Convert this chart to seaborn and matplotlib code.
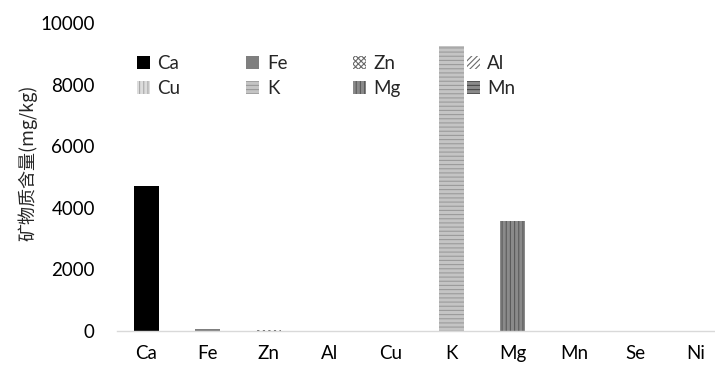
import matplotlib
matplotlib.use("Agg")
import matplotlib.pyplot as plt
import seaborn as sns
import pandas as pd
from matplotlib.patches import Patch

# 矿物质含量 (mg/kg)
elements = ["Ca", "Fe", "Zn", "Al", "Cu", "K", "Mg", "Mn", "Se", "Ni"]
content = [4710, 75, 35, 6, 5, 9250, 3570, 10, 0.2, 1]
legend_items = ["Ca", "Fe", "Zn", "Al", "Cu", "K", "Mg", "Mn"]

# fill, hatch colour, hatch
faces = ["#000000", "#7f7f7f", "#ffffff", "#ffffff", "#dcdcdc", "#c4c4c4", "#8a8a8a", "#8a8a8a", "#8a8a8a", "#8a8a8a"]
edges = ["#000000", "#7f7f7f", "#6a6a6a", "#6a6a6a", "#a8a8a8", "#9a9a9a", "#5a5a5a", "#4a4a4a", "#4a4a4a", "#4a4a4a"]
hatches = [None, None, "xxxxxx", "//////", "||||", "----", "||||", "----", None, None]

df = pd.DataFrame({"element": elements, "content": content})

sns.set_style("white")
plt.rcParams["font.family"] = ["Lato", "DejaVu Sans"]
plt.rcParams["hatch.linewidth"] = 0.8

fig = plt.figure(figsize=(7.15, 3.76), dpi=100)
ax = fig.add_axes([117 / 715, 45 / 376, 598 / 715, 308 / 376])

sns.barplot(data=df, x="element", y="content", hue="element", palette=faces,
            width=0.41, legend=False, ax=ax, saturation=1)

for cont, fc, ec, h in zip(ax.containers, faces, edges, hatches):
    for bar in cont:
        bar.set_facecolor(fc)
        bar.set_edgecolor(ec)
        bar.set_linewidth(0)
        if h:
            bar.set_hatch(h)

ax.set_ylim(0, 10000)
ax.set_yticks([0, 2000, 4000, 6000, 8000, 10000])
ax.set_xlim(-0.475, 9.31)
ax.set_xlabel("")
ax.set_ylabel("矿物质含量(mg/kg)", family=["Noto Sans CJK SC", "DejaVu Sans"],
              fontsize=13)
ax.yaxis.set_label_coords(-0.133, 0.545)
ax.tick_params(axis="both", labelsize=13.5, length=0, colors="#000000")
ax.tick_params(axis="x", pad=10)
ax.tick_params(axis="y", pad=16)
for s in ["top", "right", "left"]:
    ax.spines[s].set_visible(False)
ax.spines["bottom"].set_color("#d9d9d9")
ax.spines["bottom"].set_linewidth(1)

handles = {}
for name in legend_items:
    i = elements.index(name)
    handles[name] = Patch(facecolor=faces[i], edgecolor=edges[i], hatch=hatches[i],
                          linewidth=0, label=name)
# matplotlib fills legend columns first; reorder so rows read Ca Fe Zn Al / Cu K Mg Mn
order = [legend_items[r * 4 + c] for c in range(4) for r in range(2)]
ax.legend(handles=[handles[n] for n in order], ncol=4, loc="upper left",
          bbox_to_anchor=(20 / 598, 0.895), borderaxespad=0, borderpad=0,
          frameon=False, fontsize=13.5, handlelength=0.7, handleheight=0.7,
          handletextpad=0.4, columnspacing=3.5, labelspacing=0.4)

fig.savefig("out.png", dpi=100)
